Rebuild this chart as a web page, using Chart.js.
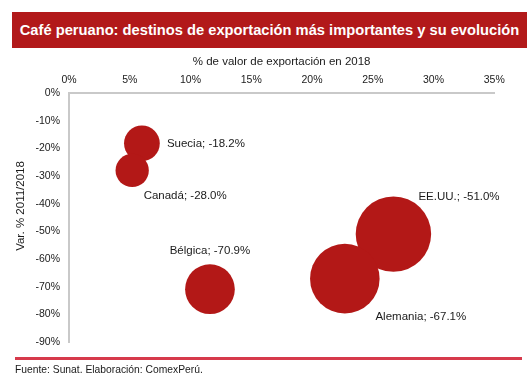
<!DOCTYPE html>
<html>
<head>
<meta charset="utf-8">
<script src="https://cdn.jsdelivr.net/npm/chart.js@4.4.1/dist/chart.umd.min.js"></script>
<style>
  html, body { margin: 0; padding: 0; background: #ffffff; }
  body { width: 532px; height: 382px; position: relative; overflow: hidden; font-family: "Liberation Sans", Arial, sans-serif; }
  #banner { position: absolute; left: 12px; top: 12px; width: 515px; height: 36px; background: #B2191A;
            color: #ffffff; font-weight: bold; font-size: 14.7px; line-height: 36px; text-align: center; white-space: nowrap; }
  #rule { position: absolute; left: 15px; top: 357px; width: 507px; height: 3px; background: #D63A4B; }
  #source { position: absolute; left: 15px; top: 364px; font-size: 10.3px; color: #1a1a1a; white-space: nowrap; }
  #wrap { position: absolute; left: 0; top: 0; width: 532px; height: 382px; }
</style>
</head>
<body>
<div id="wrap"><canvas id="c" width="532" height="382"></canvas></div>
<div id="banner">Café peruano: destinos de exportación más importantes y su evolución</div>
<div id="rule"></div>
<div id="source">Fuente: Sunat. Elaboración: ComexPerú.</div>
<script>
// ---- data ----
const countries = ['Suecia', 'Canadá', 'Bélgica', 'EE.UU.', 'Alemania'];
const exportShare2018 = [6.0, 5.2, 11.6, 26.7, 22.7];      // % de valor de exportación en 2018
const variation2011_2018 = [-18.2, -28.0, -70.9, -51.0, -67.1]; // Var. % 2011/2018
const xTickValues = [0, 5, 10, 15, 20, 25, 30, 35];
const yTickValues = [0, -10, -20, -30, -40, -50, -60, -70, -80, -90];
const xAxisTitle = '% de valor de exportación en 2018';
const yAxisTitle = 'Var. % 2011/2018';

// ---- styling / layout (not data) ----
const bubbleColor = '#B31817';
const bubbleScale = 7.3; // radius px = scale * sqrt(share)
const labelOffsets = [
  { dx: 25, dy: 0, align: 'left' },
  { dx: 53, dy: 25, align: 'center' },
  { dx: 0, dy: -38, align: 'center' },
  { dx: 25, dy: -37, align: 'left' },
  { dx: 76, dy: 38, align: 'center' }
];
const FONT = '"Liberation Sans", Arial, sans-serif';
const TEXT = '#1a1a1a';

const points = countries.map((c, i) => ({
  x: exportShare2018[i],
  y: variation2011_2018[i],
  r: bubbleScale * Math.sqrt(exportShare2018[i])
}));

const labelPlugin = {
  id: 'bubbleLabels',
  afterDatasetsDraw(chart) {
    const ctx = chart.ctx;
    const xs = chart.scales.x, ys = chart.scales.y;
    ctx.save();
    ctx.font = '11.5px ' + FONT;
    ctx.fillStyle = TEXT;
    ctx.textBaseline = 'middle';
    countries.forEach((c, i) => {
      const px = xs.getPixelForValue(exportShare2018[i]);
      const py = ys.getPixelForValue(variation2011_2018[i]);
      const o = labelOffsets[i];
      ctx.textAlign = o.align;
      ctx.fillText(c + '; ' + variation2011_2018[i].toFixed(1) + '%', px + o.dx, py + o.dy);
    });
    // y-axis title (rotated), placed slightly above the axis centre as in the source
    ctx.translate(21, 206);
    ctx.rotate(-Math.PI / 2);
    ctx.textAlign = 'center';
    ctx.font = '11.5px ' + FONT;
    ctx.fillText(yAxisTitle, 0, 0);
    ctx.restore();
  }
};

const PAD_TOP = 48, PAD_LEFT = 8;

new Chart(document.getElementById('c'), {
  type: 'bubble',
  data: {
    datasets: [{
      data: points,
      backgroundColor: bubbleColor,
      borderWidth: 0,
      hoverBorderWidth: 0
    }]
  },
  options: {
    responsive: false,
    animation: false,
    events: [],
    layout: { padding: { top: PAD_TOP, left: PAD_LEFT, right: 35, bottom: 40 } },
    plugins: { legend: { display: false }, tooltip: { enabled: false } },
    scales: {
      x: {
        type: 'linear',
        position: 'top',
        min: 0, max: 35,
        afterBuildTicks(scale) { scale.ticks = xTickValues.map(v => ({ value: v })); },
        afterFit(scale) { scale.height = 93 - PAD_TOP; },
        grid: { display: false, drawTicks: false },
        border: { display: true, color: '#C9C9C9', width: 2 },
        ticks: {
          padding: 7,
          color: TEXT,
          font: { family: FONT, size: 10.5 },
          callback: v => v + '%'
        },
        title: {
          display: true,
          text: xAxisTitle,
          color: TEXT,
          font: { family: FONT, size: 11.5 },
          padding: { top: 7, bottom: 0 }
        }
      },
      y: {
        type: 'linear',
        position: 'left',
        min: -90, max: 0,
        afterBuildTicks(scale) { scale.ticks = yTickValues.map(v => ({ value: v })); },
        afterFit(scale) { scale.width = 69 - PAD_LEFT; },
        grid: { display: false, drawTicks: false },
        border: { display: true, color: '#C9C9C9', width: 2 },
        ticks: {
          padding: 9,
          color: TEXT,
          font: { family: FONT, size: 10.5 },
          callback: v => v + '%'
        },
        title: { display: false }
      }
    }
  },
  plugins: [labelPlugin]
});
</script>
</body>
</html>
